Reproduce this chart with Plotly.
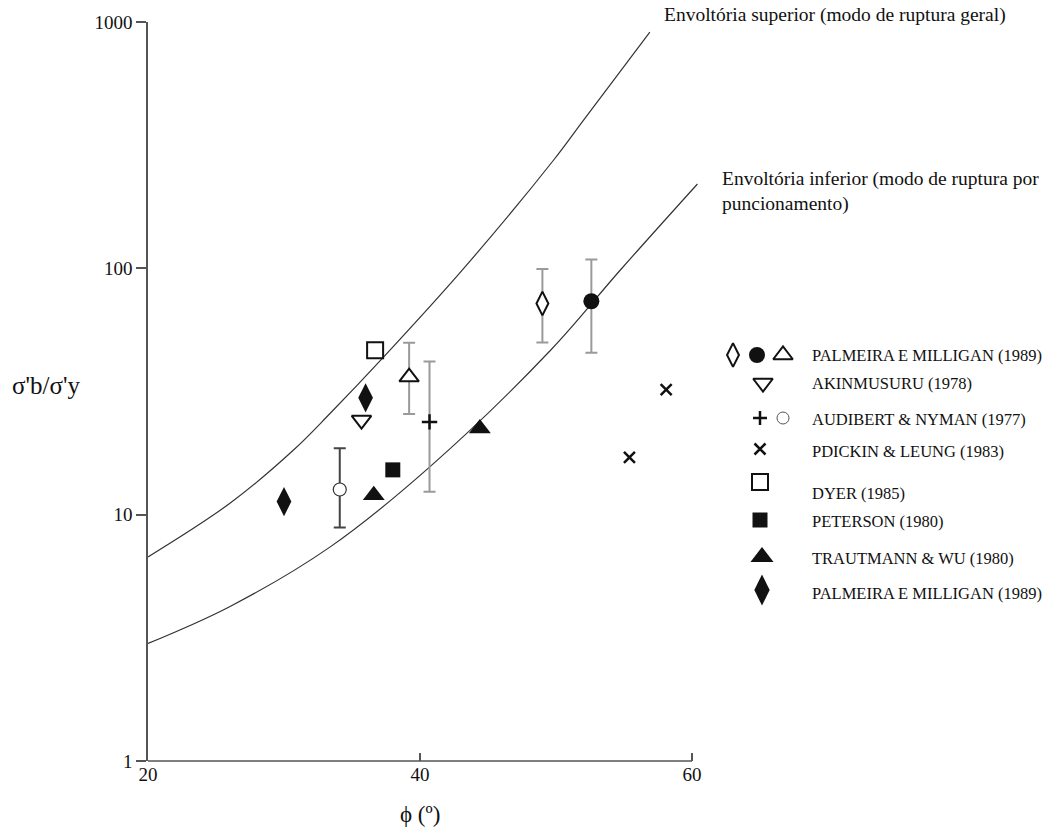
import plotly.graph_objects as go

# ---------------- data ----------------
upper_phi = [20, 26.0, 30.7, 33.4, 37.3, 43.2, 49.8, 52.0, 56.9]
upper_ratio = [6.74, 11.1, 18.3, 25.8, 43.5, 99.7, 274, 398, 910]
lower_phi = [20, 26.0, 33.4, 40.7, 49.6, 54.7, 60.4]
lower_ratio = [3.0, 4.23, 7.4, 15.6, 46.5, 98, 220]

palm_odiam_phi = [49.0]; palm_odiam_y = [72.0]; palm_odiam_hi = [99.4]; palm_odiam_lo = [50.0]
palm_circ_phi = [52.6]; palm_circ_y = [73.5]; palm_circ_hi = [108.5]; palm_circ_lo = [45.4]
palm_otri_phi = [39.2]; palm_otri_y = [36.2]; palm_otri_hi = [49.9]; palm_otri_lo = [25.6]
akin_phi = [35.7]; akin_y = [24.2]
aud_plus_phi = [40.7]; aud_plus_y = [23.8]; aud_plus_hi = [41.9]; aud_plus_lo = [12.4]
aud_circ_phi = [34.1]; aud_circ_y = [12.65]; aud_circ_hi = [18.6]; aud_circ_lo = [8.87]
dickin_phi = [55.4, 58.1]; dickin_y = [17.1, 32.2]
dyer_phi = [36.7]; dyer_y = [46.5]
peterson_phi = [38.0]; peterson_y = [15.2]
traut_phi = [36.6, 44.4]; traut_y = [12.0, 22.4]
palm_fdiam_phi = [30.0, 36.0]; palm_fdiam_y = [11.3, 29.8]

legend_labels = ["PALMEIRA E MILLIGAN (1989)", "AKINMUSURU (1978)", "AUDIBERT & NYMAN (1977)",
                 "PDICKIN & LEUNG (1983)", "DYER (1985)", "PETERSON (1980)",
                 "TRAUTMANN & WU (1980)", "PALMEIRA E MILLIGAN (1989)"]

x_tickvals = [20, 40, 60]
y_tickvals = [1, 10, 100, 1000]
y_ticktext = ["1", "10", "100", "1000"]

upper_label = "Envoltória superior (modo de ruptura geral)"
lower_label = "Envoltória inferior (modo de ruptura por<br>puncionamento)"

# ---------------- layout geometry ----------------
W, H = 1049, 828
ML, MR, MT, MB = 148, 4, 22, 67
PW = W - ML - MR
PH = H - MT - MB
PX_PER_UNIT = (692 - 148) / 40.0
X_MAX = 61.3
x_right_px = ML + (X_MAX - 20) * PX_PER_UNIT
LEG_L = 720

def px2px(x):
    return (x - ML) / PW

def py2py(y):
    return (H - MB - y) / PH

FONT = "Liberation Serif, Times New Roman, serif"
BLACK = "#111111"
GREY = "#9a9a9a"

fig = go.Figure()

# curves
fig.add_trace(go.Scatter(x=upper_phi, y=upper_ratio, mode="lines", line=dict(color="#333", width=1.2, shape="spline"),
                         hoverinfo="skip", showlegend=False))
fig.add_trace(go.Scatter(x=lower_phi, y=lower_ratio, mode="lines", line=dict(color="#333", width=1.2, shape="spline"),
                         hoverinfo="skip", showlegend=False))

def err(y, hi, lo, color=GREY):
    return dict(type="data", symmetric=False,
                array=[h - v for h, v in zip(hi, y)],
                arrayminus=[v - l for v, l in zip(y, lo)],
                color=color, thickness=2, width=6)

def pts(x, y, symbol, size, filled=True, lw=2, color=BLACK, error=None):
    if symbol.endswith("-open"):
        m = dict(symbol=symbol, size=size, color=color, line=dict(color=color, width=lw))
    else:
        m = dict(symbol=symbol, size=size, color=color if filled else "white",
                 line=dict(color=color, width=lw))
    fig.add_trace(go.Scatter(x=x, y=y, mode="markers", marker=m, error_y=error,
                             showlegend=False, cliponaxis=False))

pts(palm_odiam_phi, palm_odiam_y, "diamond-tall", 17, filled=False, lw=2, error=err(palm_odiam_y, palm_odiam_hi, palm_odiam_lo))
pts(palm_circ_phi, palm_circ_y, "circle", 16, lw=0, error=err(palm_circ_y, palm_circ_hi, palm_circ_lo))
pts(palm_otri_phi, palm_otri_y, "triangle-up", 17, filled=False, lw=2, error=err(palm_otri_y, palm_otri_hi, palm_otri_lo))
pts(aud_plus_phi, aud_plus_y, "cross-thin-open", 11, lw=2.5, error=err(aud_plus_y, aud_plus_hi, aud_plus_lo))
pts(aud_circ_phi, aud_circ_y, "circle", 13, filled=False, lw=1.2, color="#333",
    error=err(aud_circ_y, aud_circ_hi, aud_circ_lo, color="#444"))
pts(akin_phi, akin_y, "triangle-down", 17, filled=False, lw=2)
pts(dickin_phi, dickin_y, "x-thin-open", 11, lw=2.5)
pts(dyer_phi, dyer_y, "square", 16, filled=False, lw=2)
pts(peterson_phi, peterson_y, "square", 15, lw=0)
pts(traut_phi, traut_y, "triangle-up", 19, lw=0)
pts(palm_fdiam_phi, palm_fdiam_y, "diamond-tall", 21, lw=0)

# ---------------- legend on its own axes (pixel-like units) ----------------
row_sym_y = [355, 383, 418, 449, 482, 520, 557, 590]
row_txt_y = [355, 383, 419, 451, 493, 521, 558, 593]
leg_items = [
    (733, 0, "diamond-tall", 17, False, 2, BLACK),
    (757, 0, "circle", 16, True, 0, BLACK),
    (783, 0, "triangle-up", 17, False, 2, BLACK),
    (763, 1, "triangle-down", 17, False, 2, BLACK),
    (760, 2, "cross-thin-open", 10, True, 2.5, BLACK),
    (783, 2, "circle", 12, False, 1, "#555"),
    (760, 3, "x-thin-open", 11, True, 2.5, BLACK),
    (760, 4, "square", 16, False, 2, BLACK),
    (760, 5, "square", 15, True, 0, BLACK),
    (762, 6, "triangle-up", 20, True, 0, BLACK),
    (762, 7, "diamond-tall", 22, True, 0, BLACK),
]
for (lx, r, sym, sz, filled, lw, col) in leg_items:
    if sym.endswith("-open"):
        mk = dict(symbol=sym, size=sz, color=col, line=dict(color=col, width=lw))
    else:
        mk = dict(symbol=sym, size=sz, color=col if filled else "white", line=dict(color=col, width=lw))
    fig.add_trace(go.Scatter(x=[lx], y=[row_sym_y[r]], mode="markers", marker=mk,
                             xaxis="x2", yaxis="y2", showlegend=False, hoverinfo="skip"))

annotations = []
for lab, ty in zip(legend_labels, row_txt_y):
    annotations.append(dict(x=810, y=ty, xref="x2", yref="y2", text=lab, showarrow=False,
                            xanchor="left", yanchor="middle", font=dict(family=FONT, size=16.5, color=BLACK)))

annotations.append(dict(x=px2px(662), y=py2py(15), xref="paper", yref="paper", text=upper_label,
                        showarrow=False, xanchor="left", yanchor="middle",
                        font=dict(family=FONT, size=19.5, color=BLACK)))
annotations.append(dict(x=px2px(720), y=py2py(191), xref="paper", yref="paper", text=lower_label,
                        showarrow=False, xanchor="left", yanchor="middle", align="left",
                        font=dict(family=FONT, size=19.5, color=BLACK)))
annotations.append(dict(x=px2px(46), y=py2py(385), xref="paper", yref="paper", text="σ'b/σ'y",
                        showarrow=False, xanchor="center", yanchor="middle",
                        font=dict(family=FONT, size=25, color=BLACK)))
annotations.append(dict(x=px2px(420), y=py2py(814), xref="paper", yref="paper", text="ϕ (º)",
                        showarrow=False, xanchor="center", yanchor="middle",
                        font=dict(family=FONT, size=23, color=BLACK)))

shapes = [dict(type="line", xref="x", yref="paper", x0=20, x1=60, y0=0, y1=0,
               line=dict(color="#555", width=1.5))]

fig.update_layout(
    width=W, height=H,
    margin=dict(l=ML, r=MR, t=MT, b=MB),
    paper_bgcolor="white", plot_bgcolor="rgba(0,0,0,0)",
    showlegend=False,
    annotations=annotations, shapes=shapes,
    xaxis=dict(domain=[0, (x_right_px - ML) / PW], range=[20, X_MAX], tickvals=x_tickvals,
               ticks="inside", ticklen=8, tickwidth=1.5, tickcolor="#555",
               showline=False, showgrid=False, zeroline=False,
               tickfont=dict(family=FONT, size=19, color=BLACK)),
    yaxis=dict(type="log", range=[0, 3], tickvals=y_tickvals, ticktext=y_ticktext,
               ticks="outside", ticklen=10, tickwidth=1.5, tickcolor="#555",
               showline=True, linecolor="#555", linewidth=1.5,
               showgrid=False, zeroline=False,
               tickfont=dict(family=FONT, size=19, color=BLACK)),
    xaxis2=dict(domain=[px2px(LEG_L), 1], range=[LEG_L, W - MR], visible=False, anchor="y2"),
    yaxis2=dict(domain=[0, 1], range=[H - MB, MT], visible=False, anchor="x2"),
)

fig.write_html("out.html", config={"displayModeBar": False},
               post_script="document.body.style.margin='0';document.body.style.overflow='hidden';")
